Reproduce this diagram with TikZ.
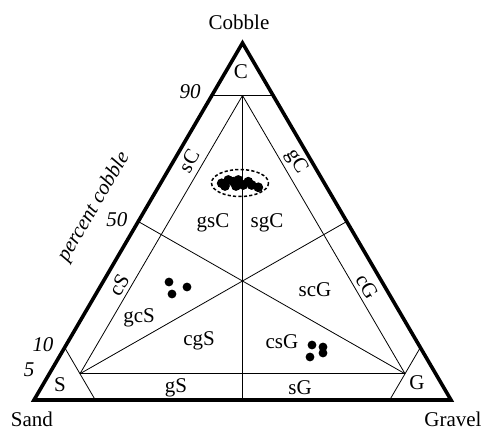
\documentclass[tikz,border=0pt]{standalone}
\usepackage{fontspec}
\setmainfont{Liberation Serif}
\usetikzlibrary{calc}
\tikzset{
  outer/.style={line width=3.6pt, line join=miter},
  thin/.style={line width=0.8pt},
  lbl/.style={inner sep=0pt, font=\fontsize{21}{25}\selectfont},
  ilbl/.style={inner sep=0pt, font=\fontsize{21}{25}\selectfont\itshape},
  dot/.style={fill=black, draw=none},
  cluster/.style={draw, dashed, line width=1.5pt, dash pattern=on 3.2pt off 2.2pt}
}
\begin{document}
\begin{tikzpicture}[x=1pt,y=-1pt]
\useasboundingbox (0,0) rectangle (483,428);
\def\f{0.147}
% outer vertices
\coordinate (S) at (34,400);
\coordinate (G) at (451,400);
\coordinate (C) at (242.5,43);
% corner points
\coordinate (Sc) at ($(S)!\f!(C)$);
\coordinate (Sg) at ($(S)!\f!(G)$);
\coordinate (Gs) at ($(G)!\f!(S)$);
\coordinate (Gc) at ($(G)!\f!(C)$);
\coordinate (Cs) at ($(C)!\f!(S)$);
\coordinate (Cg) at ($(C)!\f!(G)$);
% inner vertices
\coordinate (Si) at ($(Sc)!0.5!(Sg)$);
\coordinate (Gi) at ($(Gs)!0.5!(Gc)$);
\coordinate (Ci) at ($(Cs)!0.5!(Cg)$);
% side midpoints
\coordinate (Msc) at ($(S)!0.5!(C)$);
\coordinate (Mgc) at ($(G)!0.5!(C)$);
\coordinate (Msg) at ($(S)!0.5!(G)$);
% thin lines
\draw[thin] (Sc) -- (Sg);
\draw[thin] (Gs) -- (Gc);
\draw[thin] (Cs) -- (Cg);
\draw[thin] (Ci) -- (Si);
\draw[thin] (Ci) -- (Gi);
\draw[thin] (Si) -- (Gi);
\draw[thin] (Ci) -- (Msg);
\draw[thin] (Si) -- (Mgc);
\draw[thin] (Gi) -- (Msc);
% outer triangle
\draw[outer] (S) -- (G) -- (C) -- cycle;
% corner labels
\node[lbl] (lCobble) at (239,22) {Cobble};
\node[lbl] (lSand) at (32,419.5) {Sand};
\node[lbl] (lGravel) at (453,419) {Gravel};
\node[lbl] (lC) at (241,72) {C};
\node[lbl] (lS) at (60,385) {S};
\node[lbl] (lG) at (417,383) {G};
% scale labels
\node[ilbl] (n90) at (190,92) {90};
\node[ilbl] (n50) at (117,220) {50};
\node[ilbl] (n10) at (43,345) {10};
\node[ilbl] (n5) at (29,370) {5};
\node[ilbl, rotate=59.7] (pc) at (94,207) {percent cobble};
% field labels
\node[lbl, rotate=59.7] (lsC) at (189,161) {sC};
\node[lbl, rotate=-59.7] (lgC) at (296,162) {gC};
\node[lbl, rotate=59.7] (lcS) at (119,285) {cS};
\node[lbl, rotate=-59.7] (lcG) at (367,287) {cG};
\node[lbl] (lgsC) at (213,223) {gsC};
\node[lbl] (lsgC) at (267,223) {sgC};
\node[lbl] (lgcS) at (139,318) {gcS};
\node[lbl] (lscG) at (315,290) {scG};
\node[lbl] (lcgS) at (199,341) {cgS};
\node[lbl] (lcsG) at (282,342) {csG};
\node[lbl] (lgS) at (176,388) {gS};
\node[lbl] (lsG) at (300,388) {sG};
% data points
\foreach \x/\y in {221.7/183.3, 228.3/180, 233.3/181.7, 238.3/180, 243.3/185, 248.3/181.7, 251.7/185, 258.3/187.3, 225/186, 236/186}
  \fill[dot] (\x,\y) circle (4.9);
\draw[cluster] (240,183) ellipse (28.5 and 13.5);
\foreach \x/\y in {169/282, 172/294, 187/287}
  \fill[dot] (\x,\y) circle (4.4);
\foreach \x/\y in {312/345, 323/347, 310/357, 323/353}
  \fill[dot] (\x,\y) circle (4.4);
\end{tikzpicture}
\end{document}
